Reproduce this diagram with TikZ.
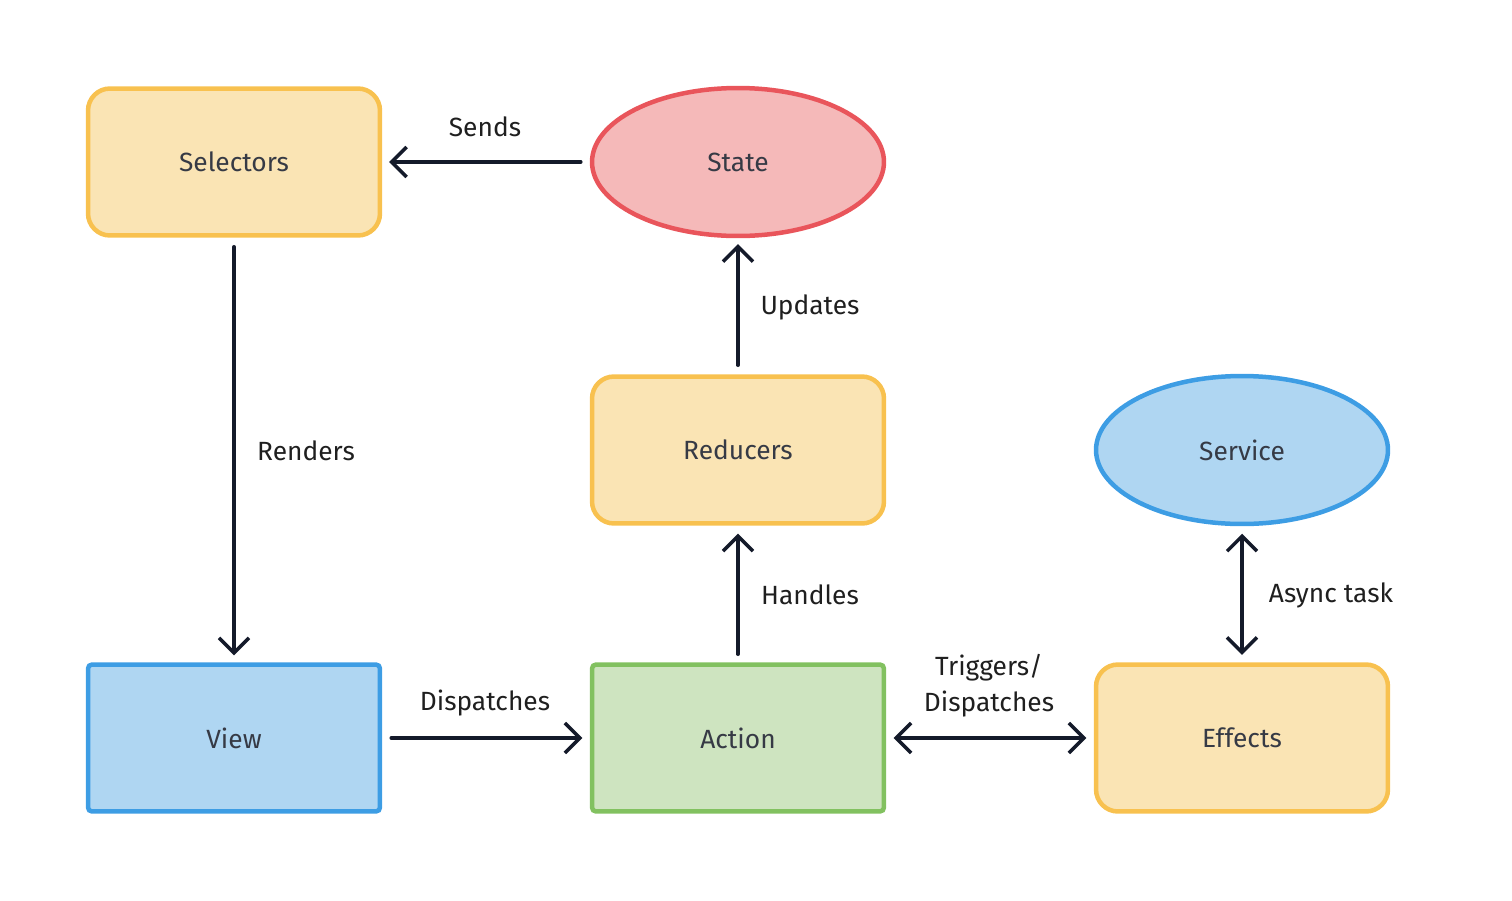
\documentclass[tikz,border=0pt]{standalone}
\usepackage{fontspec}
\setmainfont{Fira Sans}
\usetikzlibrary{arrows.meta,shapes.geometric}
\definecolor{ybord}{HTML}{F8C14F}
\definecolor{yfill}{HTML}{FAE4B4}
\definecolor{bbord}{HTML}{3D9DE4}
\definecolor{bfill}{HTML}{AFD6F2}
\definecolor{gbord}{HTML}{82C160}
\definecolor{gfill}{HTML}{CEE4C0}
\definecolor{rbord}{HTML}{E9555B}
\definecolor{rfill}{HTML}{F5B9B9}
\definecolor{txt}{HTML}{363A45}
\definecolor{arr}{HTML}{141A2A}
\begin{document}
\begin{tikzpicture}[x=0.02cm,y=-0.02cm,
  base/.style={line width=0.09cm, minimum width=5.84cm, minimum height=2.94cm, inner sep=0pt, font=\fontsize{15}{18}\selectfont, text=txt},
  ybox/.style={base, draw=ybord, fill=yfill, rounded corners=0.44cm},
  bbox/.style={base, draw=bbord, fill=bfill, rounded corners=0.08cm},
  gbox/.style={base, draw=gbord, fill=gfill, rounded corners=0.08cm},
  rell/.style={base, ellipse, draw=rbord, fill=rfill},
  bell/.style={base, ellipse, draw=bbord, fill=bfill},
  tip/.tip={Straight Barb[length=0.3cm,width=0.6cm,line width=0.07cm]},
  conn/.style={draw=arr, line width=0.07cm, line cap=round, -tip},
  dconn/.style={conn, tip-tip},
  lbl/.style={font=\fontsize{15}{20.4}\selectfont, text=black!88, align=center, inner sep=0pt}
]
\useasboundingbox (0,0) rectangle (1512,900);
\node[ybox] (sel) at (234,162) {Selectors};
\node[rell, minimum width=5.84cm, minimum height=2.96cm] (state) at (738,162) {State};
\node[ybox] (red) at (738,450) {Reducers};
\node[bell, minimum width=5.84cm, minimum height=2.96cm] (svc) at (1242,450) {Service};
\node[bbox] (view) at (234,738) {View};
\node[gbox] (act) at (738,738) {Action};
\node[ybox] (eff) at (1242,738) {Effects};

\draw[conn] ([xshift=-0.18cm]state.west) -- ([xshift=0.14cm]sel.east);
\draw[conn] ([yshift=-0.18cm]sel.south) -- ([yshift=0.14cm]view.north);
\draw[conn] ([yshift=0.18cm]red.north) -- ([yshift=-0.12cm]state.south);
\draw[conn] ([yshift=0.16cm]act.north) -- ([yshift=-0.16cm]red.south);
\draw[conn] ([xshift=0.18cm]view.east) -- ([xshift=-0.15cm]act.west);
\draw[dconn] ([xshift=0.15cm]act.east) -- ([xshift=-0.15cm]eff.west);
\draw[dconn] ([yshift=-0.15cm]svc.south) -- ([yshift=0.15cm]eff.north);

\node[lbl] (l1) at (485,127) {Sends};
\node[lbl] (l2) at (306,451) {Renders};
\node[lbl] (l3) at (810,307) {Updates};
\node[lbl] (l4) at (810,595) {Handles};
\node[lbl] (l5) at (485,703) {Dispatches};
\node[lbl] (l6) at (989,686) {Triggers/\\Dispatches};
\node[lbl] (l7) at (1331,595) {Async task};
\end{tikzpicture}
\end{document}
